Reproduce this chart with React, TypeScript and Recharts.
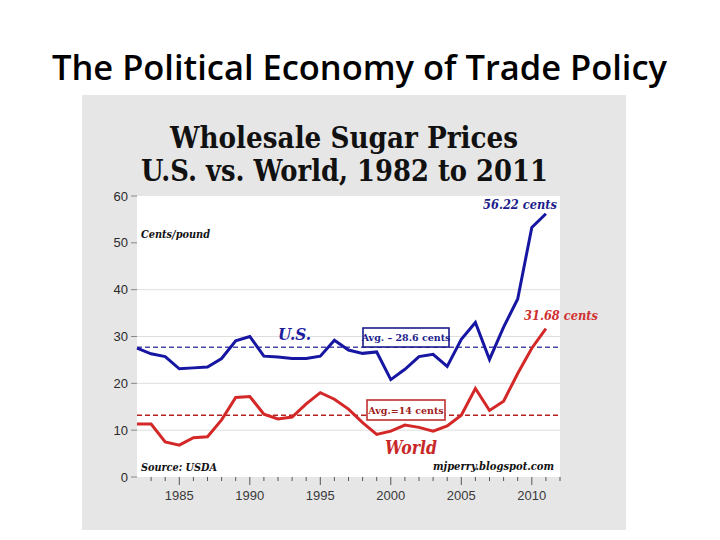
import { LineChart, Line, XAxis, YAxis, CartesianGrid, ReferenceLine } from "recharts";

const years = [
  1982, 1983, 1984, 1985, 1986, 1987, 1988, 1989, 1990, 1991, 1992, 1993, 1994, 1995, 1996,
  1997, 1998, 1999, 2000, 2001, 2002, 2003, 2004, 2005, 2006, 2007, 2008, 2009, 2010, 2011,
];
const usPrice = [
  27.5, 26.3, 25.7, 23.1, 23.3, 23.5, 25.3, 29.1, 30.0, 25.8, 25.6, 25.3, 25.3, 25.8, 29.2,
  27.1, 26.4, 26.7, 20.8, 23.0, 25.7, 26.2, 23.6, 29.4, 33.0, 25.1, 32.0, 38.0, 53.3, 56.22,
];
const worldPrice = [
  11.3, 11.3, 7.5, 6.8, 8.4, 8.6, 12.2, 17.0, 17.2, 13.4, 12.4, 12.8, 15.6, 18.0, 16.6,
  14.5, 11.6, 9.1, 9.8, 11.1, 10.6, 9.8, 10.9, 13.2, 18.9, 14.2, 16.2, 22.1, 27.5, 31.68,
];
const usAvgLine = 27.7;
const worldAvgLine = 13.2;
const yTicks = [0, 10, 20, 30, 40, 50, 60];
const gridValues = [10, 20, 30, 40];
const xTicks = [
  1983, 1984, 1985, 1986, 1987, 1988, 1989, 1990, 1991, 1992, 1993, 1994, 1995, 1996, 1997,
  1998, 1999, 2000, 2001, 2002, 2003, 2004, 2005, 2006, 2007, 2008, 2009, 2010, 2011, 2012,
];

const data = years.map((year, i) => ({ year, us: usPrice[i], world: worldPrice[i] }));

const BLUE = "#1616a2";
const RED = "#d42828";
const serif = "Georgia, 'DejaVu Serif', 'Liberation Serif', serif";
const sans = "'Liberation Sans', Arial, sans-serif";

function YearTick(props: any) {
  const { x, y, payload } = props;
  const major = payload.value % 5 === 0;
  return (
    <g>
      <line x1={x} x2={x} y1={y} y2={y + (major ? 8 : 4)} stroke="#555" strokeWidth={1} />
      {major && payload.value <= 2010 && (
        <text x={x} y={y + 23} textAnchor="middle" fontSize={13} fill="#3a3a3a" fontFamily={sans}>
          {payload.value}
        </text>
      )}
    </g>
  );
}

export default function App() {
  return (
    <div style={{ position: "absolute", left: 0, top: 0, width: 720, height: 540, background: "#fff" }}>
      <div style={{ position: "absolute", left: 82, top: 95, width: 544, height: 435, background: "#e6e6e6" }}>
        <LineChart width={544} height={435} data={data} margin={{ top: 101, right: 66, bottom: 0, left: 0 }}>
          <CartesianGrid vertical={false} horizontalValues={gridValues} stroke="#dedede" fill="#fff" fillOpacity={1} />
          <XAxis
            dataKey="year"
            type="number"
            domain={[1982, 2012]}
            ticks={xTicks}
            interval={0}
            tick={<YearTick />}
            tickLine={false}
            axisLine={false}
            tickSize={0}
            tickMargin={0}
            height={53}
          />
          <YAxis
            domain={[0, 60]}
            ticks={yTicks}
            axisLine={false}
            tickLine={{ stroke: "#888" }}
            tickSize={6}
            tickMargin={3}
            width={55}
            tick={{ fill: "#2a2a2a", fontSize: 13, fontFamily: sans }}
          />
          <ReferenceLine y={usAvgLine} stroke="#4a4aa8" strokeDasharray="5 3" strokeWidth={1.5} />
          <ReferenceLine y={worldAvgLine} stroke="#b22020" strokeDasharray="5 3" strokeWidth={1.5} />
          <Line type="linear" dataKey="world" stroke={RED} strokeWidth={3} dot={false} isAnimationActive={false} />
          <Line type="linear" dataKey="us" stroke={BLUE} strokeWidth={3} dot={false} isAnimationActive={false} />
        </LineChart>
      </div>
      <svg width={720} height={540} style={{ position: "absolute", left: 0, top: 0, pointerEvents: "none" }}>
        <text x={52} y={80} fontSize={35} fontWeight={600} fontFamily="'Open Sans', sans-serif" fill="#000" textLength={615} lengthAdjust="spacingAndGlyphs">
          The Political Economy of Trade Policy
        </text>
        <text x={170} y={148} fontSize={30} fontWeight="bold" fontFamily={serif} fill="#111" textLength={348} lengthAdjust="spacingAndGlyphs">
          Wholesale Sugar Prices
        </text>
        <text x={141} y={181} fontSize={30} fontWeight="bold" fontFamily={serif} fill="#111" textLength={407} lengthAdjust="spacingAndGlyphs">
          U.S. vs. World, 1982 to 2011
        </text>
        <text x={141} y={238} fontSize={11} fontWeight="bold" fontStyle="italic" fontFamily={serif} fill="#111" textLength={69} lengthAdjust="spacingAndGlyphs">
          Cents/pound
        </text>
        <text x={483} y={209} fontSize={13} fontWeight="bold" fontStyle="italic" fontFamily={serif} fill="#1c1c8c" textLength={74} lengthAdjust="spacingAndGlyphs">
          56.22 cents
        </text>
        <text x={524} y={320} fontSize={13} fontWeight="bold" fontStyle="italic" fontFamily={serif} fill="#d03030" textLength={74} lengthAdjust="spacingAndGlyphs">
          31.68 cents
        </text>
        <text x={278} y={340} fontSize={17} fontWeight="bold" fontStyle="italic" fontFamily={serif} fill="#1c1c9c" textLength={33} lengthAdjust="spacingAndGlyphs">
          U.S.
        </text>
        <text x={385} y={454} fontSize={18} fontWeight="bold" fontStyle="italic" fontFamily={serif} fill="#c82828" textLength={52} lengthAdjust="spacingAndGlyphs">
          World
        </text>
        <text x={141} y={471} fontSize={11} fontWeight="bold" fontStyle="italic" fontFamily={serif} fill="#111" textLength={76} lengthAdjust="spacingAndGlyphs">
          Source: USDA
        </text>
        <text x={433} y={470} fontSize={11} fontWeight="bold" fontStyle="italic" fontFamily={serif} fill="#111" textLength={121} lengthAdjust="spacingAndGlyphs">
          mjperry.blogspot.com
        </text>
        <rect x={363} y={328} width={86} height={19} fill="#fff" stroke="#1c1c8c" strokeWidth={1.6} />
        <text x={406} y={341} textAnchor="middle" fontSize={9.5} fontWeight="bold" fontFamily={serif} fill="#1c1c8c">
          Avg. – 28.6 cents
        </text>
        <rect x={367} y={400} width={78} height={20} fill="#fff" stroke="#c03030" strokeWidth={1.6} />
        <text x={406} y={414} textAnchor="middle" fontSize={9.5} fontWeight="bold" fontFamily={serif} fill="#a02020">
          Avg.=14 cents
        </text>
      </svg>
    </div>
  );
}
